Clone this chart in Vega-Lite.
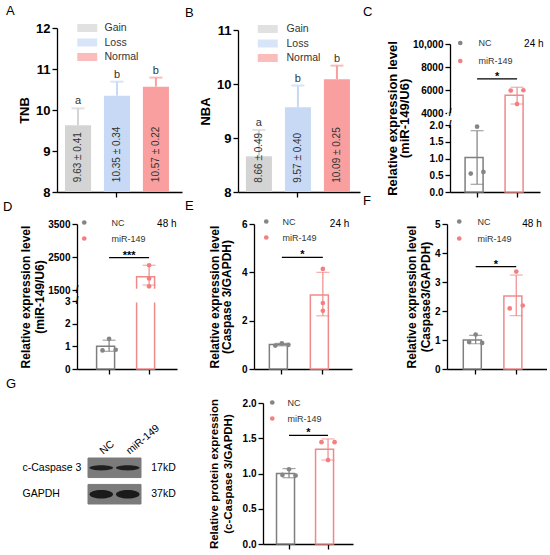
{
  "$schema": "https://vega.github.io/schema/vega-lite/v6.json",
  "padding": {"left": 3, "top": 5, "right": 0, "bottom": 0},
  "background": "white",
  "config": {
    "font": "Liberation Sans",
    "view": {"stroke": null},
    "axis": {"grid": false, "domainColor": "#000", "domainWidth": 1.3, "tickColor": "#000", "tickWidth": 1.3, "tickSize": 5, "labelColor": "#000", "labelFontWeight": "bold", "labelFontSize": 10, "labelPadding": 2, "labelOverlap": false, "titleColor": "#000", "titleFontWeight": "bold", "titleFontSize": 12, "titleLineHeight": 14, "labelFont": "Liberation Sans", "titleFont": "Liberation Sans"},
    "axisX": {"labels": false},
    "legend": {"orient": "none", "padding": 0, "labelColor": "#333", "labelFont": "Liberation Sans", "labelFontSize": 9, "symbolType": "circle", "symbolSize": 22, "symbolStrokeWidth": 0},
    "title": {"anchor": "start", "frame": "group", "fontSize": 13, "fontWeight": "normal", "color": "#000", "font": "Liberation Sans", "offset": 0}
  },
  "datasets": {
    "tnb": [
      {"group": "Gain", "mean": 9.63, "hi": 10.04, "letter": "a", "label": "9.63 ± 0.41"},
      {"group": "Loss", "mean": 10.35, "hi": 10.69, "letter": "b", "label": "10.35 ± 0.34"},
      {"group": "Normal", "mean": 10.57, "hi": 10.79, "letter": "b", "label": "10.57 ± 0.22"}
    ],
    "nba": [
      {"group": "Gain", "mean": 8.66, "hi": 9.15, "letter": "a", "label": "8.66 ± 0.49"},
      {"group": "Loss", "mean": 9.57, "hi": 9.97, "letter": "b", "label": "9.57 ± 0.40"},
      {"group": "Normal", "mean": 10.09, "hi": 10.34, "letter": "b", "label": "10.09 ± 0.25"}
    ],
    "c_sum": [
      {"group": "NC", "mean": 1.03, "lo": 0.23, "hi": 1.83},
      {"group": "miR-149", "mean": 5540, "lo": 4780, "hi": 6240}
    ],
    "c_pts": [
      {"group": "NC", "rep": "1", "value": 0.55},
      {"group": "NC", "rep": "2", "value": 1.95},
      {"group": "NC", "rep": "3", "value": 0.6},
      {"group": "miR-149", "rep": "1", "value": 5950},
      {"group": "miR-149", "rep": "2", "value": 4780},
      {"group": "miR-149", "rep": "3", "value": 5980}
    ],
    "c_break": [{"b": 2}, {"b": 4000}],
    "d_sum": [
      {"group": "NC", "mean": 1.0, "lo": 0.78, "hi": 1.27},
      {"group": "miR-149", "mean": 1900, "lo": 1650, "hi": 2250}
    ],
    "d_pts": [
      {"group": "NC", "rep": "1", "value": 0.82},
      {"group": "NC", "rep": "2", "value": 1.33},
      {"group": "NC", "rep": "3", "value": 0.85},
      {"group": "miR-149", "rep": "2", "value": 2250},
      {"group": "miR-149", "rep": "2", "value": 1850},
      {"group": "miR-149", "rep": "2", "value": 1610}
    ],
    "d_break": [{"b": 3}, {"b": 1500}],
    "e_sum": [
      {"group": "NC", "mean": 1.01, "lo": 0.96, "hi": 1.06},
      {"group": "miR-149", "mean": 3.06, "lo": 2.2, "hi": 4.0}
    ],
    "e_pts": [
      {"group": "NC", "rep": "1", "value": 0.97},
      {"group": "NC", "rep": "2", "value": 1.06},
      {"group": "NC", "rep": "3", "value": 1.0},
      {"group": "miR-149", "rep": "2", "value": 4.14},
      {"group": "miR-149", "rep": "2", "value": 2.73},
      {"group": "miR-149", "rep": "2", "value": 2.41}
    ],
    "f_sum": [
      {"group": "NC", "mean": 1.0, "lo": 0.87, "hi": 1.16},
      {"group": "miR-149", "mean": 2.52, "lo": 1.84, "hi": 3.24}
    ],
    "f_pts": [
      {"group": "NC", "rep": "1", "value": 0.93},
      {"group": "NC", "rep": "2", "value": 1.19},
      {"group": "NC", "rep": "3", "value": 0.9},
      {"group": "miR-149", "rep": "1", "value": 2.09},
      {"group": "miR-149", "rep": "2", "value": 3.36},
      {"group": "miR-149", "rep": "3", "value": 2.19}
    ],
    "g_sum": [
      {"group": "NC", "mean": 1.0, "lo": 0.94, "hi": 1.07},
      {"group": "miR-149", "mean": 1.345, "lo": 1.19, "hi": 1.49}
    ],
    "g_pts": [
      {"group": "NC", "rep": "1", "value": 0.98},
      {"group": "NC", "rep": "2", "value": 1.06},
      {"group": "NC", "rep": "3", "value": 0.97},
      {"group": "miR-149", "rep": "1", "value": 1.445},
      {"group": "miR-149", "rep": "2", "value": 1.19},
      {"group": "miR-149", "rep": "3", "value": 1.445}
    ],
    "blot": [
      {"protein": "c-Caspase 3", "lane": "NC"},
      {"protein": "c-Caspase 3", "lane": "miR-149"},
      {"protein": "GAPDH", "lane": "NC"},
      {"protein": "GAPDH", "lane": "miR-149"}
    ],
    "blot_kd": [
      {"protein": "c-Caspase 3", "kd": "17kD"},
      {"protein": "GAPDH", "kd": "37kD"}
    ]
  },
  "columns": 3,
  "bounds": "flush",
  "align": {"row": "each", "column": "each"},
  "spacing": {"row": 32, "column": 20},
  "resolve": {"scale": {"color": "independent", "xOffset": "independent"}},
  "concat": [
    {
      "title": {"text": "A", "dx": -51},
      "width": 161, "height": 164,
      "data": {"name": "tnb"},
      "encoding": {"x": {"field": "group", "type": "nominal", "scale": {"domain": ["Gain", "Loss", "Normal"], "range": [0, 125], "paddingInner": 0.33, "paddingOuter": 0.27, "align": 0.38}, "axis": {"values": ["Loss"], "title": null}}},
      "layer": [
        {"mark": {"type": "bar"}, "encoding": {
          "y": {"field": "mean", "type": "quantitative", "scale": {"domain": [8, 12], "nice": false, "zero": false}, "axis": {"values": [8, 9, 10, 11, 12], "format": "d", "title": "TNB", "titleFontSize": 13, "labelFontSize": 13, "titlePadding": 4}},
          "y2": {"datum": 8},
          "color": {"field": "group", "type": "nominal", "scale": {"domain": ["Gain", "Loss", "Normal"], "range": ["#d4d4d4", "#c7d9f4", "#f99f9f"]}, "legend": {"title": null, "legendX": 25, "legendY": -5.25, "symbolType": "M-2,-0.8H2V0.8H-2Z", "symbolSize": 100, "labelFontSize": 10.5, "labelOffset": 12, "rowPadding": 3.5, "symbolOpacity": 1}}}},
        {"mark": {"type": "rule", "strokeWidth": 2}, "encoding": {"y": {"field": "mean", "type": "quantitative"}, "y2": {"field": "hi"}, "color": {"field": "group", "type": "nominal"}}},
        {"mark": {"type": "tick", "size": 13, "thickness": 2}, "encoding": {"y": {"field": "hi", "type": "quantitative"}, "color": {"field": "group", "type": "nominal"}}},
        {"mark": {"type": "text", "baseline": "alphabetic", "dy": -4, "fontSize": 11, "color": "#333"}, "encoding": {"y": {"field": "hi", "type": "quantitative"}, "text": {"field": "letter"}}},
        {"mark": {"type": "text", "angle": 270, "align": "left", "baseline": "middle", "fontSize": 10, "color": "#333"}, "encoding": {"y": {"datum": 8.24}, "text": {"field": "label"}}}
      ]
    },
    {
      "title": {"text": "B", "dx": -53},
      "width": 189, "height": 164,
      "data": {"name": "nba"},
      "encoding": {"x": {"field": "group", "type": "nominal", "scale": {"domain": ["Gain", "Loss", "Normal"], "range": [0, 122], "paddingInner": 0.333, "paddingOuter": 0.23, "align": 0.44}, "axis": {"values": ["Loss"], "title": null}}},
      "layer": [
        {"mark": {"type": "bar"}, "encoding": {
          "y": {"field": "mean", "type": "quantitative", "scale": {"domain": [8, 11], "range": [164, 2], "nice": false, "zero": false}, "axis": {"values": [8, 9, 10, 11], "format": "d", "title": "NBA", "titleFontSize": 13, "labelFontSize": 13, "titlePadding": 4}},
          "y2": {"datum": 8},
          "color": {"field": "group", "type": "nominal", "scale": {"domain": ["Gain", "Loss", "Normal"], "range": ["#d4d4d4", "#c7d9f4", "#f99f9f"]}, "legend": {"title": null, "legendX": 24.5, "legendY": -4.25, "symbolType": "M-2,-0.8H2V0.8H-2Z", "symbolSize": 100, "labelFontSize": 10.5, "labelOffset": 13.5, "rowPadding": 3.5, "symbolOpacity": 1}}}},
        {"mark": {"type": "rule", "strokeWidth": 2}, "encoding": {"y": {"field": "mean", "type": "quantitative"}, "y2": {"field": "hi"}, "color": {"field": "group", "type": "nominal"}}},
        {"mark": {"type": "tick", "size": 13, "thickness": 2}, "encoding": {"y": {"field": "hi", "type": "quantitative"}, "color": {"field": "group", "type": "nominal"}}},
        {"mark": {"type": "text", "baseline": "alphabetic", "dy": -4, "fontSize": 11, "color": "#333"}, "encoding": {"y": {"field": "hi", "type": "quantitative"}, "text": {"field": "letter"}}},
        {"mark": {"type": "text", "angle": 270, "align": "left", "baseline": "middle", "fontSize": 10, "color": "#333"}, "encoding": {"y": {"datum": 8.17}, "text": {"field": "label"}}}
      ]
    },
    {
      "title": {"text": "C", "dx": -84, "dy": -5},
      "width": 93, "height": 164,
      "encoding": {"x": {"field": "group", "type": "nominal", "scale": {"domain": ["NC", "miR-149"], "range": [3, 93], "paddingInner": 0.4, "paddingOuter": 0.325, "align": 0.58}, "axis": {"values": ["NC", "miR-149"], "title": null}}},
      "layer": [
        {"data": {"name": "c_sum"}, "mark": {"type": "bar", "fill": "white", "strokeWidth": 1.5}, "encoding": {
          "y": {"field": "mean", "type": "quantitative", "scale": {"domain": [0, 2, 4000, 10000], "range": [164, 97, 85, 16], "nice": false, "zero": false}, "axis": {"values": [0, 0.5, 1, 1.5, 2, 4000, 6000, 8000, 10000], "tickCount": 30, "labelOverlap": false, "labelExpr": "datum.value >= 10000 ? '10,000' : datum.value >= 1000 ? format(datum.value, 'd') : format(datum.value, '.1f')", "title": ["Relative expression level", "(miR-149/U6)"], "titleFontSize": 13, "titleLineHeight": 12, "titlePadding": 1, "offset": -3, "zindex": 0}},
          "stroke": {"condition": {"test": "datum.group === 'NC'", "value": "#7f7f7f"}, "value": "#ef8a8a"}}},
        {"data": {"name": "c_sum"}, "mark": {"type": "rule", "strokeWidth": 1.2}, "encoding": {"y": {"field": "lo", "type": "quantitative"}, "y2": {"field": "hi"}, "color": {"condition": {"test": "datum.group === 'NC'", "value": "#7f7f7f"}, "value": "#ef8a8a"}}},
        {"data": {"name": "c_sum"}, "mark": {"type": "tick", "size": 13, "thickness": 1.2}, "encoding": {"y": {"field": "hi", "type": "quantitative"}, "color": {"condition": {"test": "datum.group === 'NC'", "value": "#7f7f7f"}, "value": "#ef8a8a"}}},
        {"data": {"name": "c_sum"}, "mark": {"type": "tick", "size": 13, "thickness": 1.2}, "encoding": {"y": {"field": "lo", "type": "quantitative"}, "color": {"condition": {"test": "datum.group === 'NC'", "value": "#7f7f7f"}, "value": "#ef8a8a"}}},
        {"data": {"values": [{}]}, "mark": {"type": "rect", "fill": "white"}, "encoding": {"y": {"datum": 2.04}, "y2": {"datum": 3960}}},
        {"data": {"name": "c_break"}, "mark": {"type": "text", "text": "/", "fontSize": 10, "fontWeight": "bold", "baseline": "middle", "dx": -27}, "encoding": {"x": {"datum": "NC"}, "y": {"field": "b", "type": "quantitative"}}},
        {"data": {"name": "c_pts"}, "mark": {"type": "circle", "size": 22, "opacity": 1}, "encoding": {"y": {"field": "value", "type": "quantitative"}, "xOffset": {"field": "rep", "type": "nominal", "scale": {"domain": ["1", "2", "3"], "paddingInner": 0, "paddingOuter": 0.9}}, "color": {"field": "group", "type": "nominal", "scale": {"domain": ["NC", "miR-149"], "range": ["#858585", "#f28080"]}, "legend": {"title": null, "legendX": 8.75, "legendY": 10.5, "labelOffset": 13.75, "rowPadding": 8}}}},
        {"data": {"values": [{}]}, "mark": {"type": "rule", "strokeWidth": 1.3, "color": "#000"}, "encoding": {"x": {"datum": "NC"}, "x2": {"datum": "miR-149"}, "y": {"datum": 6960}}},
        {"data": {"values": [{}]}, "mark": {"type": "text", "text": "*", "fontSize": 11, "fontWeight": "bold", "dx": 20, "dy": 1, "baseline": "alphabetic"}, "encoding": {"x": {"datum": "NC"}, "y": {"datum": 6960}}},
        {"data": {"values": [{}]}, "mark": {"type": "text", "text": "24 h", "fontSize": 10, "align": "left", "baseline": "middle", "dx": 7}, "encoding": {"x": {"datum": "miR-149"}, "y": {"datum": 10000}}}
      ]
    },
    {
      "title": {"text": "D", "dx": -54},
      "width": 161, "height": 145,
      "encoding": {"x": {"field": "group", "type": "nominal", "scale": {"domain": ["NC", "miR-149"], "range": [20, 120], "paddingInner": 0.375, "paddingOuter": 0.4375, "align": 0.56}, "axis": {"values": ["NC", "miR-149"], "title": null}}},
      "layer": [
        {"data": {"name": "d_sum"}, "mark": {"type": "bar", "fill": "white", "strokeWidth": 1.5}, "encoding": {
          "y": {"field": "mean", "type": "quantitative", "scale": {"domain": [0, 3, 1500, 3500], "range": [145, 77, 66, 0], "nice": false, "zero": false}, "axis": {"values": [0, 1, 2, 3, 1500, 2500, 3500], "tickCount": 30, "labelOverlap": false, "labelExpr": "format(datum.value, 'd')", "title": ["Relative expression level", "(miR-149/U6)"], "titlePadding": 1, "offset": -20}},
          "stroke": {"condition": {"test": "datum.group === 'NC'", "value": "#7f7f7f"}, "value": "#ef8a8a"}}},
        {"data": {"name": "d_sum"}, "mark": {"type": "rule", "strokeWidth": 1.2}, "encoding": {"y": {"field": "lo", "type": "quantitative"}, "y2": {"field": "hi"}, "color": {"condition": {"test": "datum.group === 'NC'", "value": "#7f7f7f"}, "value": "#ef8a8a"}}},
        {"data": {"name": "d_sum"}, "mark": {"type": "tick", "size": 13, "thickness": 1.2}, "encoding": {"y": {"field": "hi", "type": "quantitative"}, "color": {"condition": {"test": "datum.group === 'NC'", "value": "#7f7f7f"}, "value": "#ef8a8a"}}},
        {"data": {"name": "d_sum"}, "mark": {"type": "tick", "size": 13, "thickness": 1.2}, "encoding": {"y": {"field": "lo", "type": "quantitative"}, "color": {"condition": {"test": "datum.group === 'NC'", "value": "#7f7f7f"}, "value": "#ef8a8a"}}},
        {"data": {"name": "d_sum"}, "transform": [{"filter": "datum.group == 'miR-149'"}], "mark": {"type": "bar", "fill": "white", "stroke": "white", "strokeWidth": 3}, "encoding": {"y": {"datum": 3.08}, "y2": {"datum": 1470}}},
        {"data": {"name": "d_break"}, "mark": {"type": "text", "text": "/", "fontSize": 10, "fontWeight": "bold", "baseline": "middle", "dx": -32}, "encoding": {"x": {"datum": "NC"}, "y": {"field": "b", "type": "quantitative"}}},
        {"data": {"name": "d_pts"}, "mark": {"type": "circle", "size": 22, "opacity": 1}, "encoding": {"y": {"field": "value", "type": "quantitative"}, "xOffset": {"field": "rep", "type": "nominal", "scale": {"domain": ["1", "2", "3"], "paddingInner": 0, "paddingOuter": 0.9}}, "color": {"field": "group", "type": "nominal", "scale": {"domain": ["NC", "miR-149"], "range": ["#858585", "#f28080"]}, "legend": {"title": null, "legendX": 22.75, "legendY": -6, "labelOffset": 22.75, "rowPadding": 6}}}},
        {"data": {"values": [{}]}, "mark": {"type": "rule", "strokeWidth": 1.3, "color": "#000"}, "encoding": {"x": {"datum": "NC"}, "x2": {"datum": "miR-149"}, "y": {"datum": 2480}}},
        {"data": {"values": [{}]}, "mark": {"type": "text", "text": "***", "fontSize": 11, "fontWeight": "bold", "dx": 20, "dy": 1, "baseline": "alphabetic"}, "encoding": {"x": {"datum": "NC"}, "y": {"datum": 2480}}},
        {"data": {"values": [{}]}, "mark": {"type": "text", "text": "48 h", "fontSize": 10, "align": "left", "baseline": "middle", "dx": 8}, "encoding": {"x": {"datum": "miR-149"}, "y": {"datum": 3500}}}
      ]
    },
    {
      "title": {"text": "E", "dx": -53},
      "width": 189, "height": 145,
      "encoding": {"x": {"field": "group", "type": "nominal", "scale": {"domain": ["NC", "miR-149"], "range": [16, 114], "paddingInner": 0.39, "paddingOuter": 0.39, "align": 0.48}, "axis": {"values": ["NC", "miR-149"], "title": null}}},
      "layer": [
        {"data": {"name": "e_sum"}, "mark": {"type": "bar", "fill": "white", "strokeWidth": 1.5}, "encoding": {
          "y": {"field": "mean", "type": "quantitative", "scale": {"domain": [0, 6], "nice": false}, "axis": {"values": [0, 2, 4, 6], "format": "d", "title": ["Relative expression level", "(Caspase 3/GAPDH)"], "titlePadding": 8, "titleLineHeight": 12, "offset": -16}},
          "stroke": {"condition": {"test": "datum.group === 'NC'", "value": "#7f7f7f"}, "value": "#ef8a8a"}}},
        {"data": {"name": "e_sum"}, "mark": {"type": "rule", "strokeWidth": 1.2}, "encoding": {"y": {"field": "lo", "type": "quantitative"}, "y2": {"field": "hi"}, "color": {"condition": {"test": "datum.group === 'NC'", "value": "#7f7f7f"}, "value": "#ef8a8a"}}},
        {"data": {"name": "e_sum"}, "mark": {"type": "tick", "size": 13, "thickness": 1.2}, "encoding": {"y": {"field": "hi", "type": "quantitative"}, "color": {"condition": {"test": "datum.group === 'NC'", "value": "#7f7f7f"}, "value": "#ef8a8a"}}},
        {"data": {"name": "e_sum"}, "mark": {"type": "tick", "size": 13, "thickness": 1.2}, "encoding": {"y": {"field": "lo", "type": "quantitative"}, "color": {"condition": {"test": "datum.group === 'NC'", "value": "#7f7f7f"}, "value": "#ef8a8a"}}},
        {"data": {"name": "e_pts"}, "mark": {"type": "circle", "size": 22, "opacity": 1}, "encoding": {"y": {"field": "value", "type": "quantitative"}, "xOffset": {"field": "rep", "type": "nominal", "scale": {"domain": ["1", "2", "3"], "paddingInner": 0, "paddingOuter": 0.9}}, "color": {"field": "group", "type": "nominal", "scale": {"domain": ["NC", "miR-149"], "range": ["#858585", "#f28080"]}, "legend": {"title": null, "legendX": 23.75, "legendY": -7, "labelOffset": 11.75, "rowPadding": 6}}}},
        {"data": {"values": [{}]}, "mark": {"type": "rule", "strokeWidth": 1.3, "color": "#000"}, "encoding": {"x": {"datum": "NC"}, "x2": {"datum": "miR-149"}, "y": {"datum": 4.62}}},
        {"data": {"values": [{}]}, "mark": {"type": "text", "text": "*", "fontSize": 11, "fontWeight": "bold", "dx": 20.5, "dy": 1, "baseline": "alphabetic"}, "encoding": {"x": {"datum": "NC"}, "y": {"datum": 4.62}}},
        {"data": {"values": [{}]}, "mark": {"type": "text", "text": "24 h", "fontSize": 10, "align": "left", "baseline": "middle", "dx": 7}, "encoding": {"x": {"datum": "miR-149"}, "y": {"datum": 6}}}
      ]
    },
    {
      "title": {"text": "F", "dx": -84, "dy": -5},
      "width": 100, "height": 145,
      "encoding": {"x": {"field": "group", "type": "nominal", "scale": {"domain": ["NC", "miR-149"], "range": [0, 100], "paddingInner": 0.39, "paddingOuter": 0.427, "align": 0.47}, "axis": {"values": ["NC", "miR-149"], "title": null}}},
      "layer": [
        {"data": {"name": "f_sum"}, "mark": {"type": "bar", "fill": "white", "strokeWidth": 1.5}, "encoding": {
          "y": {"field": "mean", "type": "quantitative", "scale": {"domain": [0, 5], "nice": false}, "axis": {"values": [0, 1, 2, 3, 4, 5], "tickCount": 30, "format": "d", "title": ["Relative expression level", "(Caspase3/GAPDH)"], "titlePadding": 1.5}},
          "stroke": {"condition": {"test": "datum.group === 'NC'", "value": "#7f7f7f"}, "value": "#ef8a8a"}}},
        {"data": {"name": "f_sum"}, "mark": {"type": "rule", "strokeWidth": 1.2}, "encoding": {"y": {"field": "lo", "type": "quantitative"}, "y2": {"field": "hi"}, "color": {"condition": {"test": "datum.group === 'NC'", "value": "#7f7f7f"}, "value": "#ef8a8a"}}},
        {"data": {"name": "f_sum"}, "mark": {"type": "tick", "size": 13, "thickness": 1.2}, "encoding": {"y": {"field": "hi", "type": "quantitative"}, "color": {"condition": {"test": "datum.group === 'NC'", "value": "#7f7f7f"}, "value": "#ef8a8a"}}},
        {"data": {"name": "f_sum"}, "mark": {"type": "tick", "size": 13, "thickness": 1.2}, "encoding": {"y": {"field": "lo", "type": "quantitative"}, "color": {"condition": {"test": "datum.group === 'NC'", "value": "#7f7f7f"}, "value": "#ef8a8a"}}},
        {"data": {"name": "f_pts"}, "mark": {"type": "circle", "size": 22, "opacity": 1}, "encoding": {"y": {"field": "value", "type": "quantitative"}, "xOffset": {"field": "rep", "type": "nominal", "scale": {"domain": ["1", "2", "3"], "paddingInner": 0, "paddingOuter": 0.9}}, "color": {"field": "group", "type": "nominal", "scale": {"domain": ["NC", "miR-149"], "range": ["#858585", "#f28080"]}, "legend": {"title": null, "legendX": 7.75, "legendY": -7, "labelOffset": 13.75, "rowPadding": 7}}}},
        {"data": {"values": [{}]}, "mark": {"type": "rule", "strokeWidth": 1.3, "color": "#000"}, "encoding": {"x": {"datum": "NC"}, "x2": {"datum": "miR-149"}, "y": {"datum": 3.53}}},
        {"data": {"values": [{}]}, "mark": {"type": "text", "text": "*", "fontSize": 11, "fontWeight": "bold", "dx": 20.3, "dy": 1, "baseline": "alphabetic"}, "encoding": {"x": {"datum": "NC"}, "y": {"datum": 3.53}}},
        {"data": {"values": [{}]}, "mark": {"type": "text", "text": "48 h", "fontSize": 10, "align": "left", "baseline": "middle", "dx": 6}, "encoding": {"x": {"datum": "miR-149"}, "y": {"datum": 5}}}
      ]
    },
    {
      "title": {"text": "G", "dx": -51, "dy": -6},
      "width": 161, "height": 143,
      "data": {"name": "blot"},
      "encoding": {
        "x": {"field": "lane", "type": "nominal", "scale": {"domain": ["NC", "miR-149", "kD"], "range": [31, 110.5], "paddingInner": 0, "paddingOuter": 0}, "axis": {"orient": "top", "values": ["NC", "miR-149"], "labels": true, "title": null, "domain": false, "ticks": false, "tickSize": 0, "offset": -55, "labelAngle": -40, "labelAlign": "left", "labelBaseline": "middle", "labelFontWeight": "normal", "labelFontSize": 10.5, "labelPadding": 4}},
        "y": {"field": "protein", "type": "nominal", "scale": {"domain": ["c-Caspase 3", "GAPDH"], "range": [57, 103], "paddingInner": 0.26, "paddingOuter": 0}, "axis": {"title": null, "domain": false, "ticks": false, "tickSize": 0, "offset": -31, "labelAlign": "left", "labelPadding": 66, "labelFontWeight": "normal", "labelFontSize": 10.5}}
      },
      "layer": [
        {"mark": {"type": "rect", "fill": "#7b7b7b", "stroke": "#7b7b7b", "strokeWidth": 1}},
        {"transform": [{"filter": "datum.protein == 'c-Caspase 3'"}], "mark": {"type": "point", "filled": true, "shape": "M-1,0A1,0.22,0,1,1,1,0A1,0.22,0,1,1,-1,0Z", "size": 560, "color": "#151515", "opacity": 0.9}},
        {"transform": [{"filter": "datum.protein == 'GAPDH'"}], "mark": {"type": "point", "filled": true, "shape": "M-1,0A1,0.36,0,1,1,1,0A1,0.36,0,1,1,-1,0Z", "size": 560, "color": "#151515", "opacity": 0.95}},
        {"data": {"name": "blot_kd"}, "mark": {"type": "text", "align": "left", "baseline": "middle", "fontSize": 10.5, "dx": -3}, "encoding": {"x": {"datum": "kD"}, "text": {"field": "kd"}}}
      ]
    },
    {
      "width": 189, "height": 143,
      "encoding": {"x": {"field": "group", "type": "nominal", "scale": {"domain": ["NC", "miR-149"], "range": [25, 115], "paddingInner": 0.36, "paddingOuter": 0.333, "align": 0.52}, "axis": {"values": ["NC", "miR-149"], "title": null}}},
      "layer": [
        {"data": {"name": "g_sum"}, "mark": {"type": "bar", "fill": "white", "strokeWidth": 1.5}, "encoding": {
          "y": {"field": "mean", "type": "quantitative", "scale": {"domain": [0, 2], "range": [143, 2], "nice": false}, "axis": {"values": [0, 0.5, 1, 1.5, 2], "tickCount": 30, "format": ".1f", "title": ["Relative protein expression", "(c-Caspase 3/GAPDH)"], "titleFontSize": 11.5, "titlePadding": 9, "offset": -25}},
          "stroke": {"condition": {"test": "datum.group === 'NC'", "value": "#7f7f7f"}, "value": "#ef8a8a"}}},
        {"data": {"name": "g_sum"}, "mark": {"type": "rule", "strokeWidth": 1.2}, "encoding": {"y": {"field": "lo", "type": "quantitative"}, "y2": {"field": "hi"}, "color": {"condition": {"test": "datum.group === 'NC'", "value": "#7f7f7f"}, "value": "#ef8a8a"}}},
        {"data": {"name": "g_sum"}, "mark": {"type": "tick", "size": 13, "thickness": 1.2}, "encoding": {"y": {"field": "hi", "type": "quantitative"}, "color": {"condition": {"test": "datum.group === 'NC'", "value": "#7f7f7f"}, "value": "#ef8a8a"}}},
        {"data": {"name": "g_sum"}, "mark": {"type": "tick", "size": 13, "thickness": 1.2}, "encoding": {"y": {"field": "lo", "type": "quantitative"}, "color": {"condition": {"test": "datum.group === 'NC'", "value": "#7f7f7f"}, "value": "#ef8a8a"}}},
        {"data": {"name": "g_pts"}, "mark": {"type": "circle", "size": 22, "opacity": 1}, "encoding": {"y": {"field": "value", "type": "quantitative"}, "xOffset": {"field": "rep", "type": "nominal", "scale": {"domain": ["1", "2", "3"], "paddingInner": 0, "paddingOuter": 0.9}}, "color": {"field": "group", "type": "nominal", "scale": {"domain": ["NC", "miR-149"], "range": ["#858585", "#f28080"]}, "legend": {"title": null, "legendX": 29.75, "legendY": -3, "labelOffset": 10.75, "rowPadding": 6}}}},
        {"data": {"values": [{}]}, "mark": {"type": "rule", "strokeWidth": 1.3, "color": "#000"}, "encoding": {"x": {"datum": "NC"}, "x2": {"datum": "miR-149"}, "y": {"datum": 1.54}}},
        {"data": {"values": [{}]}, "mark": {"type": "text", "text": "*", "fontSize": 11, "fontWeight": "bold", "dx": 19.5, "dy": 1, "baseline": "alphabetic"}, "encoding": {"x": {"datum": "NC"}, "y": {"datum": 1.54}}}
      ]
    }
  ]
}
